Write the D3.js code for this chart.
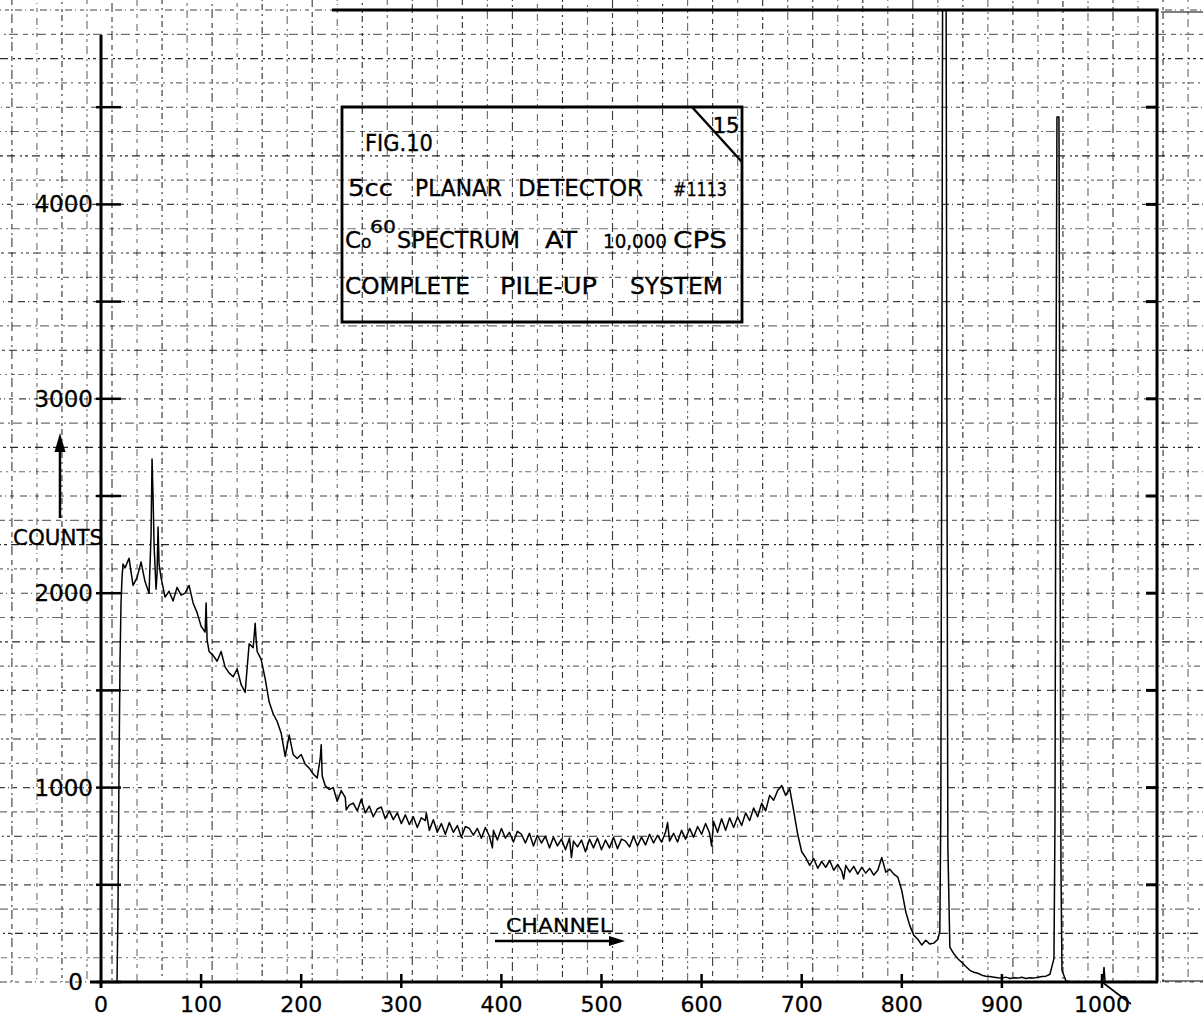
<!DOCTYPE html>
<html>
<head>
<meta charset="utf-8">
<script src="https://cdn.jsdelivr.net/npm/d3@7"></script>
<style>
  html, body { margin: 0; padding: 0; background: #fff; }
  svg { display: block; }
  text { font-family: "DejaVu Sans", "Liberation Sans", sans-serif; fill: #000; }
</style>
</head>
<body>
<svg id="chart" width="1203" height="1019"></svg>
<script>
// ---- Co-60 pulse-height spectrum, 5cc planar detector #1113 ----

// Counts sampled every 4 channels, starting at channel 24
const baseStart = 24;
const baseStep = 4;
const baseCounts = [
  2130, 2180, 2040, 2080, 2160, 2060, 2000, 2500, 2100, 2080,   // 24-60
  1980, 2010, 1960, 2030, 1990, 2000, 2040, 1950, 1900, 1830,   // 64-100
  1800, 1700, 1680, 1650, 1700, 1620, 1590, 1570, 1610, 1530,   // 104-140
  1490, 1740, 1720, 1700, 1660, 1560, 1440, 1380, 1340, 1280,   // 144-180
  1160, 1270, 1170, 1150, 1170, 1120, 1100, 1070, 1050, 1080,   // 184-220
  1010,  990, 1000,  930,  985,  950,  910,  920,  880,  940,   // 224-260
   870,  905,  850,  890,  900,  840,  880,  835,  870,  815,   // 264-300
   860,  810,  850,  795,  845,  830,  780,  835,  770,  815,   // 304-340
   760,  820,  770,  805,  745,  800,  790,  755,  790,  740,   // 344-380
   795,  750,  780,  730,  790,  740,  770,  720,  775,  760,   // 384-420
   715,  765,  700,  755,  715,  750,  690,  745,  700,  735,   // 424-460
   680,  740,  725,  695,  730,  670,  735,  690,  740,  680,   // 464-500
   730,  690,  745,  685,  735,  725,  695,  750,  700,  745,   // 504-540
   705,  760,  715,  755,  720,  770,  725,  765,  720,  780,   // 544-580
   735,  790,  745,  800,  760,  815,  765,  825,  770,  840,   // 584-620
   780,  845,  795,  850,  805,  870,  830,  895,  850,  920,   // 624-660
   880,  960,  935,  985, 1010,  960,  995,  880,  760,  670,   // 664-700
   640,  600,  635,  585,  620,  590,  625,  575,  605,  570,   // 704-740
   600,  565,  595,  555,  590,  560,  585,  550,  575,  640,   // 744-780
   565,  580,  555,  540,  470,  360,  290,  240,  220,  190,   // 784-820
   215,  195,  200,  220, 3000, 5800,  180,  145,  120,  100,   // 824-860
    80,   60,   50,   45,   35,   30,   28,   25,   22,   20,   // 864-900
    25,   18,   22,   20,   24,   18,   22,   20,   25,   28,   // 904-940
    30,   40,  120, 4450,   60,    5,    2,    0,    3,    0,   // 944-980
     2,    0,    3,    0,    2,    0,    3,    0,    2,    0,   // 984-1020
     2,    0,    3,    0,    2,    0,    2,    0,    0          // 1024-1056
];

// Sharp features: low-energy edge, X-ray lines, photopeaks (channel / counts)
const featureChannels = [14, 16, 17, 18, 19, 20, 21, 22,
  50, 51, 53, 55, 57, 58, 105, 106, 153, 154, 155, 219, 220, 221, 245,
  325, 391, 470, 566, 610, 742, 838, 839, 841, 845, 846,
  953, 954, 955, 957, 958, 959, 1001, 1002, 1003];
const featureCounts = [0, 0, 400, 1100, 1650, 1950, 2080, 2150,
  2300, 2690, 2250, 2020, 2340, 2150, 1950, 1760, 1780, 1845, 1760, 1150, 1220, 1060, 885,
  870, 690, 640, 820, 700, 530, 260, 900, 5800, 3000, 700,
  800, 3000, 4450, 4450, 2500, 600, 10, 75, 5];

// Axis ticks
const xTickValues = [0, 100, 200, 300, 400, 500, 600, 700, 800, 900, 1000];
const xTickLabels = ["0", "100", "200", "300", "400", "500", "600", "700", "800", "900", "1000"];
const yTickValues = [0, 500, 1000, 1500, 2000, 2500, 3000, 3500, 4000, 4500];
const yLabelValues = [0, 1000, 2000, 3000, 4000];
const yLabelTexts = ["0", "1000", "2000", "3000", "4000"];

// Caption block (word, left x, width, font size)
const captionLines = [
  [{t: "FIG.10", x: 365, w: 68, s: 23}],
  [{t: "5cc", x: 348, w: 45, s: 23}, {t: "PLANAR", x: 415, w: 87, s: 23}, {t: "DETECTOR", x: 518, w: 125, s: 23}, {t: "#1113", x: 673, w: 54, s: 20}],
  [{t: "SPECTRUM", x: 397, w: 123, s: 23}, {t: "AT", x: 545, w: 32, s: 23}, {t: "10,000", x: 603, w: 64, s: 19}, {t: "CPS", x: 673, w: 54, s: 23}],
  [{t: "COMPLETE", x: 345, w: 125, s: 23}, {t: "PILE-UP", x: 500, w: 97, s: 23}, {t: "SYSTEM", x: 630, w: 93, s: 23}]
];
const captionBaselines = [151, 196, 248, 294];

// ---------------------------------------------------------------
const W = 1203, H = 1019;
const svg = d3.select("#chart");
svg.append("rect").attr("width", W).attr("height", H).attr("fill", "#fff");

const x = d3.scaleLinear().domain([0, 1000]).range([101, 1102]);
const y = d3.scaleLinear().domain([0, 5000]).range([982, 10]);
const frameRight = 1157, frameTop = y(5000), frameBottom = y(0);

// merge sampled counts and features into one channel-ordered series
const series = new Map();
baseCounts.forEach((c, i) => series.set(baseStart + i * baseStep, c));
featureChannels.forEach((ch, i) => series.set(ch, featureCounts[i]));
const spectrum = Array.from(series, ([ch, c]) => ({ch, c})).sort((a, b) => a.ch - b.ch);

// ---- graph-paper grid (faded, broken printed lines) ----
const dashes = ["5 4 2 3 9 5", "7 3 1 4 4 6", "3 3 6 4 2 5", "8 5 2 3 3 4"];
const grid = svg.append("g").attr("stroke", "#111").attr("stroke-width", 1.15).attr("fill", "none");
const gridV = d3.range(-4, 45).map(k => x(11 + 25 * k));
gridV.forEach((gx, i) => {
  grid.append("line").attr("x1", gx).attr("x2", gx).attr("y1", 0).attr("y2", frameBottom)
    .attr("stroke-dasharray", dashes[i % 4])
    .attr("stroke-dashoffset", (i * 7) % 17)
    .attr("opacity", [0.8, 0.6, 0.85, 0.6][i % 4]);
});
const gridH = d3.range(0, 5001, 125);
gridH.forEach((v, i) => {
  grid.append("line").attr("x1", 0).attr("x2", W).attr("y1", y(v)).attr("y2", y(v))
    .attr("stroke-dasharray", dashes[(i + 1) % 4])
    .attr("stroke-dashoffset", (i * 5) % 19)
    .attr("opacity", [0.8, 0.6, 0.9, 0.6][i % 4]);
});

// ---- frame and axes ----
const frame = svg.append("g").attr("stroke", "#000").attr("fill", "none");
frame.append("line").attr("x1", x(0)).attr("x2", x(0)).attr("y1", 35).attr("y2", frameBottom + 6).attr("stroke-width", 3);
frame.append("line").attr("x1", 90).attr("x2", frameRight + 1).attr("y1", frameBottom).attr("y2", frameBottom).attr("stroke-width", 3);
frame.append("line").attr("x1", 332).attr("x2", frameRight + 1.5).attr("y1", frameTop).attr("y2", frameTop).attr("stroke-width", 3.2);
frame.append("line").attr("x1", frameRight).attr("x2", frameRight).attr("y1", frameTop).attr("y2", frameBottom).attr("stroke-width", 3);
frame.append("line").attr("x1", frameRight + 4).attr("x2", W).attr("y1", frameTop + 2).attr("y2", frameTop + 2).attr("stroke-width", 1.2);
frame.append("line").attr("x1", frameRight + 5).attr("x2", W).attr("y1", frameBottom - 1).attr("y2", frameBottom - 1).attr("stroke-width", 1.2);

// tick marks
yTickValues.forEach(v => {
  frame.append("line").attr("x1", x(0) - 5).attr("x2", x(0) + 20).attr("y1", y(v)).attr("y2", y(v)).attr("stroke-width", 2.5);
  if (v > 0) frame.append("line").attr("x1", frameRight - 11).attr("x2", frameRight).attr("y1", y(v)).attr("y2", y(v)).attr("stroke-width", 3);
});
xTickValues.forEach(v => {
  if (v > 0) frame.append("line").attr("x1", x(v)).attr("x2", x(v)).attr("y1", frameBottom - 8).attr("y2", frameBottom + 6).attr("stroke-width", 2.5);
});

// tick labels
svg.append("g").selectAll("text").data(xTickValues).join("text")
  .attr("x", d => x(d)).attr("y", 1012).attr("text-anchor", "middle")
  .attr("font-size", 22).attr("stroke", "#000").attr("stroke-width", 0.3)
  .text((d, i) => xTickLabels[i]);
svg.append("g").selectAll("text").data(yLabelValues).join("text")
  .attr("x", d => d === 0 ? 83 : 93).attr("y", d => y(d) + 8).attr("text-anchor", "end")
  .attr("font-size", 23).attr("stroke", "#000").attr("stroke-width", 0.3)
  .text((d, i) => yLabelTexts[i]);

// axis titles
svg.append("text").attr("x", 13).attr("y", 545).attr("font-size", 22)
  .attr("stroke", "#000").attr("stroke-width", 0.3)
  .attr("textLength", 90).attr("lengthAdjust", "spacingAndGlyphs").text("COUNTS");
svg.append("line").attr("x1", 60).attr("x2", 60).attr("y1", 518).attr("y2", 448).attr("stroke", "#000").attr("stroke-width", 2.5);
svg.append("path").attr("d", "M60,433 L54.5,452 L65.5,452 Z").attr("fill", "#000");

svg.append("text").attr("x", 506).attr("y", 932).attr("font-size", 20)
  .attr("stroke", "#000").attr("stroke-width", 0.3)
  .attr("textLength", 106).attr("lengthAdjust", "spacingAndGlyphs").text("CHANNEL");
svg.append("line").attr("x1", 495).attr("x2", 612).attr("y1", 941).attr("y2", 941).attr("stroke", "#000").attr("stroke-width", 2.5);
svg.append("path").attr("d", "M625,941 L609,936 L609,946 Z").attr("fill", "#000");

// stray pen stroke across the 1000 label
svg.append("line").attr("x1", x(1000)).attr("y1", frameBottom).attr("x2", x(1000) + 29).attr("y2", frameBottom + 22)
  .attr("stroke", "#000").attr("stroke-width", 1.6);

// ---- spectrum ----
svg.append("clipPath").attr("id", "plotClip").append("rect")
  .attr("x", x(0)).attr("y", frameTop).attr("width", frameRight - x(0)).attr("height", frameBottom - frameTop + 2);
const line = d3.line().x(d => x(d.ch)).y(d => y(d.c)).curve(d3.curveLinear);
svg.append("path").datum(spectrum).attr("clip-path", "url(#plotClip)")
  .attr("d", line).attr("fill", "none").attr("stroke", "#000")
  .attr("stroke-width", 1.5).attr("stroke-linejoin", "round");

// ---- caption box ----
const cap = svg.append("g");
cap.append("path").attr("d", "M342,107 L742,107 L742,322 L342,322 Z")
  .attr("fill", "none").attr("stroke", "#000").attr("stroke-width", 2.8);
cap.append("line").attr("x1", 692).attr("y1", 107).attr("x2", 742).attr("y2", 162)
  .attr("stroke", "#000").attr("stroke-width", 2.4);
cap.append("text").attr("x", 726).attr("y", 133).attr("font-size", 21).attr("text-anchor", "middle")
  .attr("stroke", "#000").attr("stroke-width", 0.4).text("15");
captionLines.forEach((words, li) => {
  words.forEach(w => {
    cap.append("text").attr("x", w.x).attr("y", captionBaselines[li]).attr("font-size", w.s)
      .attr("stroke", "#000").attr("stroke-width", 0.35)
      .attr("textLength", w.w).attr("lengthAdjust", "spacingAndGlyphs").text(w.t);
  });
});
// Co with raised mass number
cap.append("text").attr("x", 345).attr("y", 248).attr("font-size", 23).attr("stroke", "#000").attr("stroke-width", 0.35).text("C");
cap.append("text").attr("x", 361).attr("y", 248).attr("font-size", 17).attr("stroke", "#000").attr("stroke-width", 0.3).text("o");
cap.append("text").attr("x", 370).attr("y", 233).attr("font-size", 18).attr("stroke", "#000").attr("stroke-width", 0.3)
  .attr("textLength", 26).attr("lengthAdjust", "spacingAndGlyphs").text("60");
</script>
</body>
</html>
